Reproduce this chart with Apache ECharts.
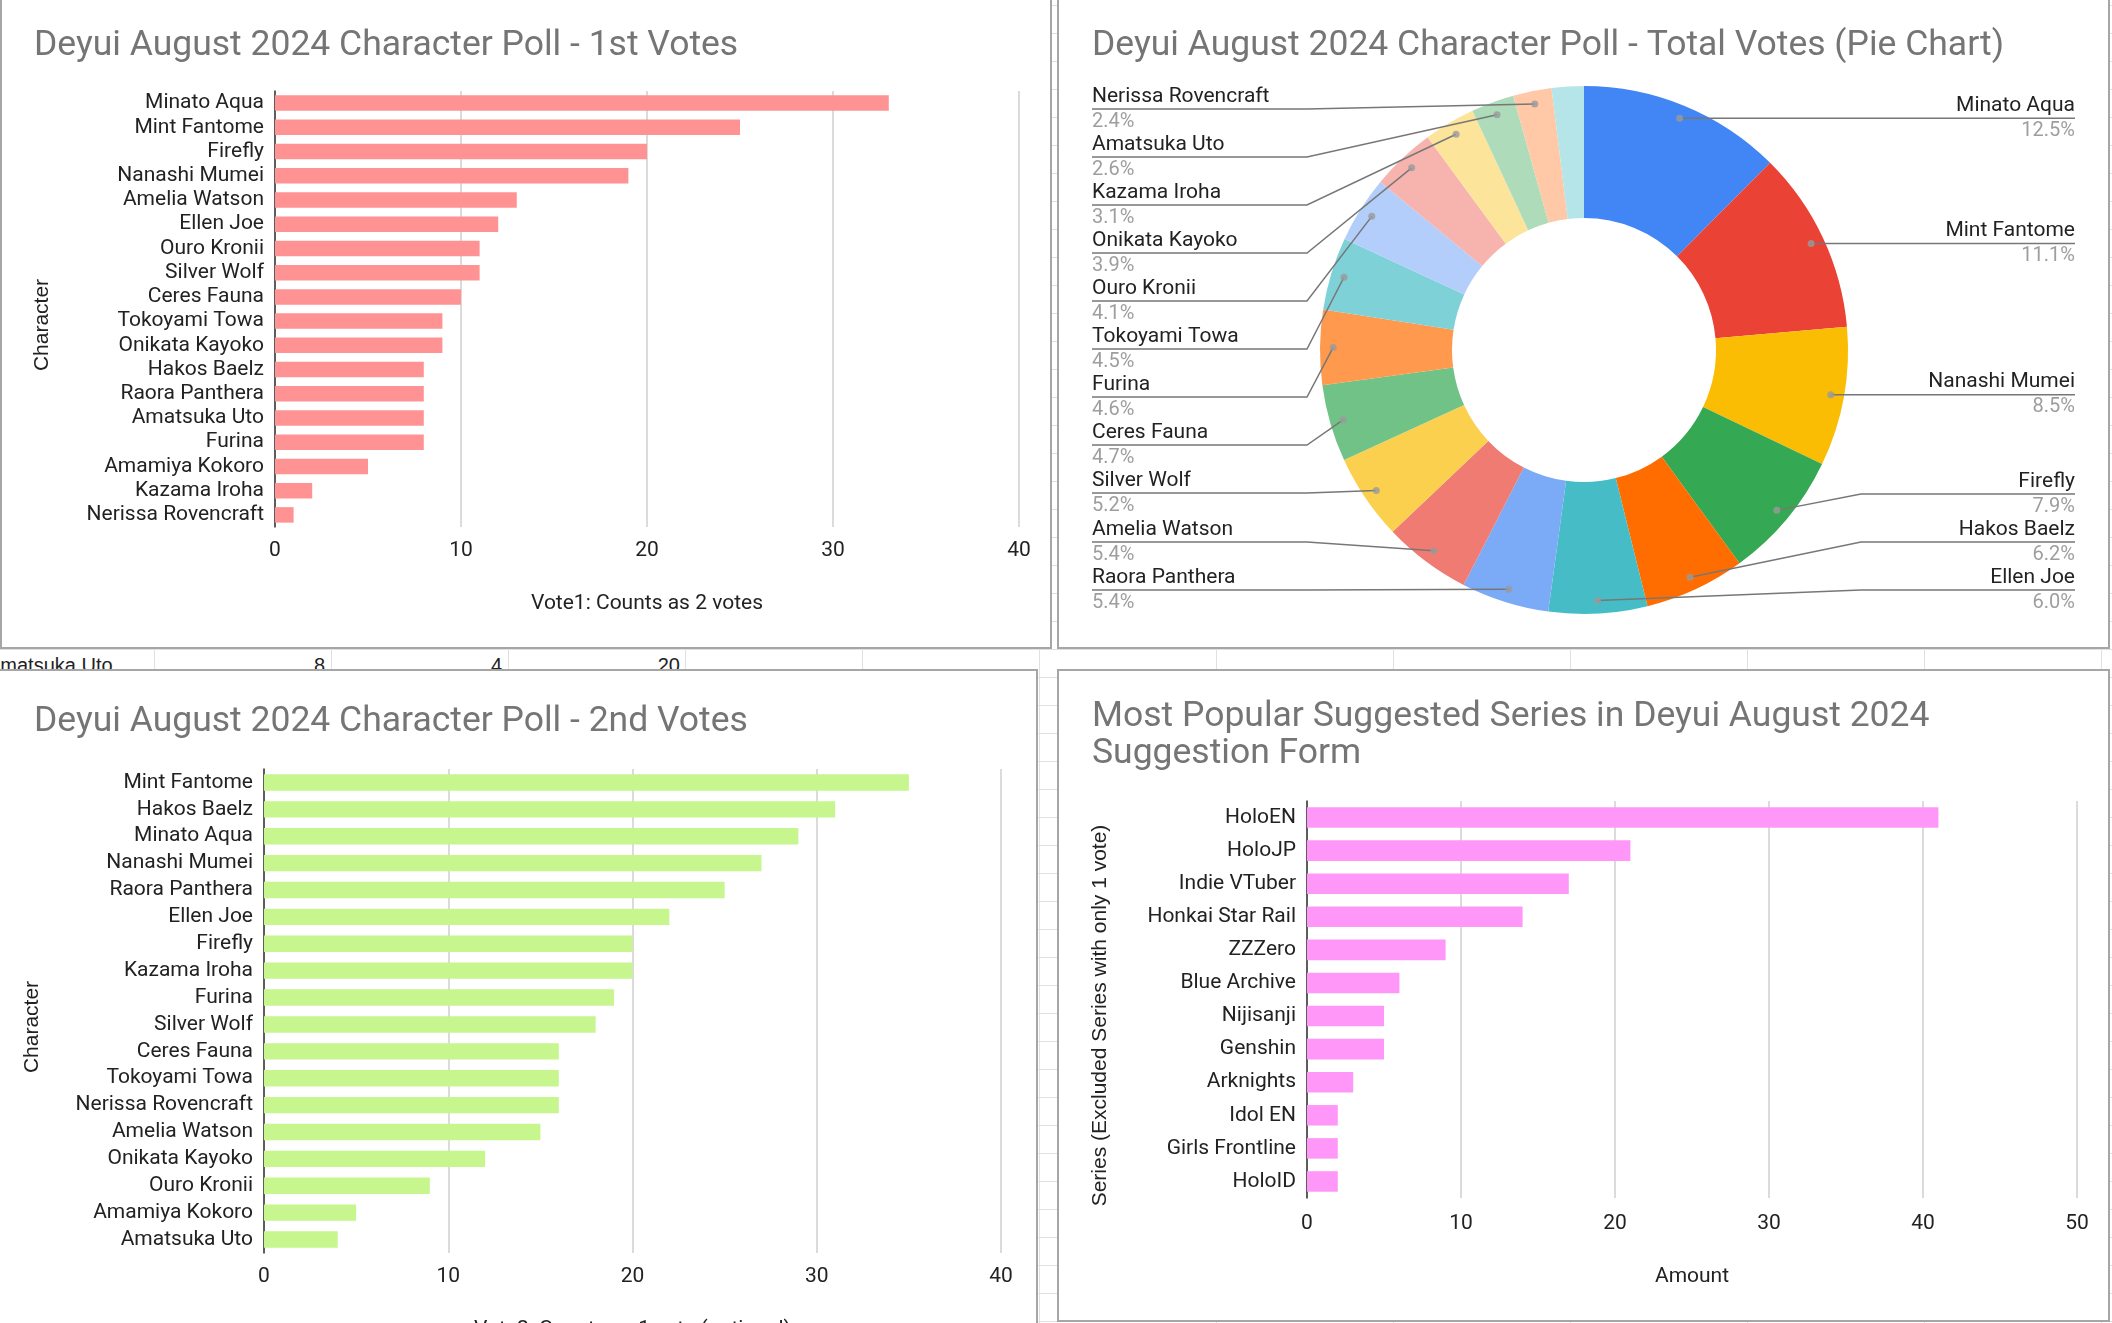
<!DOCTYPE html>
<html><head><meta charset="utf-8">
<script src="https://cdn.jsdelivr.net/npm/echarts@6/dist/echarts.min.js"></script>
<style>
html,body{margin:0;padding:0;width:2112px;height:1323px;overflow:hidden;background:#fff;}
#sheet{position:absolute;left:0;top:0;width:2112px;height:1323px;
 background-image:linear-gradient(to right,#e0e0e0 1.5px,transparent 1.5px),linear-gradient(to bottom,#e0e0e0 1.5px,transparent 1.5px);
 background-size:177px 28px;background-position:154px 649px;}
.cell{position:absolute;top:654px;font-family:Arial,'Liberation Sans',sans-serif;font-size:20px;color:#222;white-space:nowrap;}
.panel{position:absolute;background:#fff;border:2px solid #a6a6a6;box-sizing:border-box;}
.chart{position:absolute;}
</style></head>
<body>
<div id="sheet"></div>
<div class="cell" style="left:-13px;">Amatsuka Uto</div>
<div class="cell" style="left:280px;width:45px;text-align:right;">8</div>
<div class="cell" style="left:457px;width:45px;text-align:right;">4</div>
<div class="cell" style="left:635px;width:45px;text-align:right;">20</div>
<div class="panel" style="left:0;top:-2px;width:1052px;height:651px;"></div>
<div class="panel" style="left:1057px;top:-2px;width:1053px;height:651px;"></div>
<div class="panel" style="left:-4px;top:669px;width:1042px;height:700px;"></div>
<div class="panel" style="left:1057px;top:669px;width:1053px;height:653px;"></div>
<div id="c1" class="chart" style="left:0;top:0;width:1051px;height:647px;"></div>
<div id="c2" class="chart" style="left:1058px;top:0;width:1051px;height:647px;"></div>
<div id="c3" class="chart" style="left:0;top:670px;width:1037px;height:700px;"></div>
<div id="c4" class="chart" style="left:1058px;top:670px;width:1051px;height:650px;"></div>
<script>
// ---------- data ----------
const vote1Names = ['Minato Aqua','Mint Fantome','Firefly','Nanashi Mumei','Amelia Watson','Ellen Joe','Ouro Kronii','Silver Wolf','Ceres Fauna','Tokoyami Towa','Onikata Kayoko','Hakos Baelz','Raora Panthera','Amatsuka Uto','Furina','Amamiya Kokoro','Kazama Iroha','Nerissa Rovencraft'];
const vote1Values = [33,25,20,19,13,12,11,11,10,9,9,8,8,8,8,5,2,1];

const vote2Names = ['Mint Fantome','Hakos Baelz','Minato Aqua','Nanashi Mumei','Raora Panthera','Ellen Joe','Firefly','Kazama Iroha','Furina','Silver Wolf','Ceres Fauna','Tokoyami Towa','Nerissa Rovencraft','Amelia Watson','Onikata Kayoko','Ouro Kronii','Amamiya Kokoro','Amatsuka Uto'];
const vote2Values = [35,31,29,27,25,22,20,20,19,18,16,16,16,15,12,9,5,4];

const pieNames = ['Minato Aqua','Mint Fantome','Nanashi Mumei','Firefly','Hakos Baelz','Ellen Joe','Raora Panthera','Amelia Watson','Silver Wolf','Ceres Fauna','Furina','Tokoyami Towa','Ouro Kronii','Onikata Kayoko','Kazama Iroha','Amatsuka Uto','Nerissa Rovencraft','Amamiya Kokoro'];
const pieValues = [95,85,65,60,47,46,41,41,40,36,35,34,31,30,24,20,18,15];

const seriesNames = ['HoloEN','HoloJP','Indie VTuber','Honkai Star Rail','ZZZero','Blue Archive','Nijisanji','Genshin','Arknights','Idol EN','Girls Frontline','HoloID'];
const seriesValues = [41,21,17,14,9,6,5,5,3,2,2,2];

const ticks40 = [0,10,20,30,40];
const ticks50 = [0,10,20,30,40,50];

// ---------- styles ----------
const FONT = "Roboto, 'Noto Sans', sans-serif";
const AFONT = "Arial, 'Liberation Sans', sans-serif";
const pieColors = ['#4285F4','#EA4335','#FBBC04','#34A853','#FF6D01','#46BDC6','#7BAAF7','#F07B72','#FCD04F','#71C287','#FF994D','#7ED1D7','#B3CEFB','#F7B4AE','#FDE49B','#AEDCBA','#FFC8A6','#B5E5E8'];

function titleOpt(text, top){
  return {text:text, left:29, top:top, textStyle:{fontFamily:FONT, fontSize:35.5, fontWeight:'normal', color:'#757575', lineHeight:37}};
}
function barOption(o){
  return {
    animation:false,
    title:titleOpt(o.title, o.titleTop),
    grid:o.grid,
    xAxis:{type:'value', min:0, max:o.ticks[o.ticks.length-1], interval:o.ticks[1]-o.ticks[0],
      axisLine:{show:false}, axisTick:{show:false},
      splitLine:{lineStyle:{color:'#cfcfcf', width:1.5}},
      axisLabel:{fontFamily:FONT, fontSize:21, color:'#222', margin:o.xMargin},
      name:o.xName, nameLocation:'middle', nameGap:o.xGap,
      nameTextStyle:{fontFamily:FONT, fontSize:21, color:'#222'}},
    yAxis:{type:'category', inverse:true, data:o.names,
      axisLine:{show:true, lineStyle:{color:'#333', width:1.5}}, axisTick:{show:false},
      axisLabel:{interval:0, fontFamily:FONT, fontSize:21, color:'#222', margin:11},
      name:o.yName, nameLocation:'middle', nameRotate:90, nameGap:o.yGap,
      nameTextStyle:{fontFamily:AFONT, fontSize:21, color:'#222', padding:[0,32,0,0]}},
    series:[{type:'bar', data:o.values, barCategoryGap:o.gap, itemStyle:{color:o.color}}]
  };
}

echarts.init(document.getElementById('c1')).setOption(barOption({
  title:'Deyui August 2024 Character Poll - 1st Votes', titleTop:23,
  grid:{left:275, top:91, width:744, height:436},
  names:vote1Names, values:vote1Values, ticks:ticks40, color:'#FF9393', gap:'36%',
  xName:'Vote1: Counts as 2 votes', xGap:66, xMargin:13,
  yName:'Character', yGap:222
}));

echarts.init(document.getElementById('c3')).setOption(barOption({
  title:'Deyui August 2024 Character Poll - 2nd Votes', titleTop:29,
  grid:{left:264, top:99, width:737, height:484},
  names:vote2Names, values:vote2Values, ticks:ticks40, color:'#C6F68D', gap:'39%',
  xName:'Vote2: Counts as 1 vote (optional)', xGap:66, xMargin:13,
  yName:'Character', yGap:221
}));

echarts.init(document.getElementById('c4')).setOption(barOption({
  title:'Most Popular Suggested Series in Deyui August 2024\nSuggestion Form', titleTop:24,
  grid:{left:249, top:131, width:770, height:397},
  names:seriesNames, values:seriesValues, ticks:ticks50, color:'#FF97F8', gap:'38%',
  xName:'Amount', xGap:68, xMargin:15,
  yName:'Series (Excluded Series with only 1 vote)', yGap:196
}));

// ---------- pie ----------
const PIE_CX = 526, PIE_CY = 350, PIE_R = 264, PIE_IR = 132, DOT_F = 0.95, MIN_LABEL_ANGLE = 8;
const LABEL_H = 48, LABEL_TOP = 109, LABEL_BOTTOM = 590, ELBOW_GAP = 13;
const pieTotal = pieValues.reduce((a,b)=>a+b,0);

// mid angles (radians, clockwise from 12 o'clock) and label placement derived from the values
const midAngles = [];
let cum = 0;
pieValues.forEach(v => { midAngles.push((cum + v/2) / pieTotal * Math.PI * 2); cum += v; });
const shown = pieValues.map(v => v / pieTotal * 360 >= MIN_LABEL_ANGLE);
const labelY = [];
['right','left'].forEach(side => {
  const items = [];
  midAngles.forEach((a,i) => {
    if (!shown[i]) return;
    if ((Math.sin(a) >= 0) === (side === 'right')) items.push({i:i, y:PIE_CY - PIE_R*DOT_F*Math.cos(a)});
  });
  items.sort((p,q)=>p.y-q.y);
  for (let k=0;k<items.length;k++) items[k].y = Math.max(items[k].y, LABEL_TOP, k ? items[k-1].y + LABEL_H : -Infinity);
  for (let k=items.length-1;k>=0;k--) items[k].y = Math.min(items[k].y, LABEL_BOTTOM, k<items.length-1 ? items[k+1].y - LABEL_H : Infinity);
  items.forEach(it => { labelY[it.i] = it.y; });
});
const dotData = [];
cum = 0;
pieValues.forEach((v,i) => { if (shown[i]) dotData.push([DOT_F, cum + v/2]); cum += v; });

const pieData = pieNames.map((n,i)=>({name:n, value:pieValues[i]}));

echarts.init(document.getElementById('c2')).setOption({
  animation:false,
  title:titleOpt('Deyui August 2024 Character Poll - Total Votes (Pie Chart)', 23),
  polar:{center:[PIE_CX, PIE_CY], radius:PIE_R},
  angleAxis:{type:'value', min:0, max:pieTotal, startAngle:90, clockwise:true, show:false},
  radiusAxis:{type:'value', min:0, max:1, show:false},
  series:[{
    type:'pie', startAngle:90, clockwise:true, z:2, silent:true,
    center:[PIE_CX, PIE_CY], radius:[PIE_IR, PIE_R],
    label:{show:false}, labelLine:{show:false},
    data:pieData.map((d,i)=>({name:d.name, value:d.value, itemStyle:{color:pieColors[i]}}))
  },{
    type:'pie', startAngle:90, clockwise:true, z:4, silent:true,
    center:[PIE_CX, PIE_CY], radius:[PIE_IR, PIE_R],
    minShowLabelAngle:MIN_LABEL_ANGLE,
    avoidLabelOverlap:false,
    itemStyle:{color:'rgba(0,0,0,0)'},
    data:pieData,
    label:{
      alignTo:'edge', edgeDistance:34,
      formatter:p=>'{n|'+p.name+'}\n{p|'+(p.value/pieTotal*100).toFixed(1)+'%}',
      rich:{
        n:{fontFamily:FONT, fontSize:21, color:'#222', lineHeight:25},
        p:{fontFamily:FONT, fontSize:20, color:'#9e9e9e', lineHeight:25}
      }
    },
    labelLine:{show:true, length:10, length2:10, lineStyle:{color:'#777', width:1.5}},
    labelLayout:function(params){
      const i = params.dataIndex;
      if (labelY[i] === undefined) return {};
      const r = params.labelRect;
      const a = midAngles[i];
      const isLeft = Math.sin(a) < 0;
      const y = labelY[i];
      const dot = [PIE_CX + PIE_R*DOT_F*Math.sin(a), PIE_CY - PIE_R*DOT_F*Math.cos(a)];
      const elbow = [PIE_CX + (isLeft?-1:1)*(PIE_R+ELBOW_GAP), y];
      const end = [isLeft ? r.x : r.x + r.width, y];
      return {y:y, labelLinePoints:[dot, elbow, end]};
    }
  },{
    type:'scatter', coordinateSystem:'polar', z:6, silent:true,
    symbolSize:7, itemStyle:{color:'#9a9a9a'},
    data:dotData
  }]
});
</script>
</body></html>
